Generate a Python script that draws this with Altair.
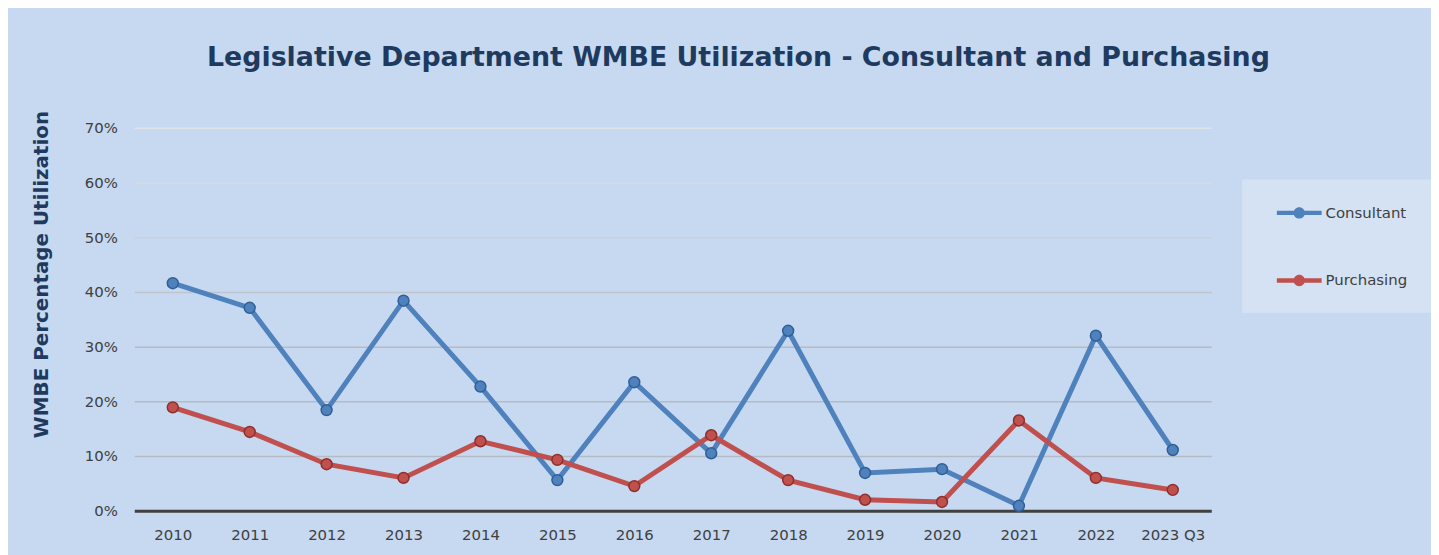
import altair as alt
import pandas as pd

years = ["2010", "2011", "2012", "2013", "2014", "2015", "2016", "2017",
         "2018", "2019", "2020", "2021", "2022", "2023 Q3"]
consultant = [0.416, 0.371, 0.184, 0.384, 0.227, 0.056, 0.235, 0.105,
              0.329, 0.069, 0.076, 0.009, 0.320, 0.111]
purchasing = [0.189, 0.144, 0.085, 0.060, 0.127, 0.093, 0.045, 0.138,
              0.056, 0.020, 0.016, 0.165, 0.060, 0.038]
series_names = ["Consultant", "Purchasing"]
series_colors = ["#4f81bd", "#c0504d"]
marker_edge = ["#2f5f96", "#8e2f2c"]
y_ticks = [0, 0.1, 0.2, 0.3, 0.4, 0.5, 0.6, 0.7]

rows = []
for s_i, (name, vals) in enumerate(zip(series_names, [consultant, purchasing])):
    for y_i, (yr, v) in enumerate(zip(years, vals)):
        rows.append({"year": yr, "series": name, "value": v, "s_order": s_i, "i": y_i})
df = pd.DataFrame(rows)

BG = "#c6d9f0"
TEXT = "#404040"
NAVY = "#1f3a5f"

# legend symbol: line segment with a round marker (unit scale = 9.5 px)
sym = ("M-2.37,-0.23 L-0.55,-0.23 L-0.55,0.23 L-2.37,0.23 Z "
       "M0.55,-0.23 L2.37,-0.23 L2.37,0.23 L0.55,0.23 Z "
       "M-0.6,0 A0.6,0.6 0 1,1 0.6,0 A0.6,0.6 0 1,1 -0.6,0 Z")

color = alt.Color(
    "series:N",
    scale=alt.Scale(domain=series_names, range=series_colors),
    legend=alt.Legend(
        orient="none", legendX=1114, legendY=52, title=None,
        fillColor="#d5e2f3", padding=24,
        symbolType=sym, symbolSize=361, symbolStrokeWidth=0,
        symbolOffset=24,
        labelFontSize=15, labelColor=TEXT, labelFont="DejaVu Sans",
        rowPadding=50, labelOffset=17,
    ),
)

grid_color = {
    "condition": [
        {"test": "datum.value > 0.65", "value": "#dfe3ea"},
        {"test": "datum.value > 0.55", "value": "#d6dae2"},
        {"test": "datum.value > 0.45", "value": "#cbd0d8"},
        {"test": "datum.value > 0.35", "value": "#c0c5cd"},
    ],
    "value": "#b6bbc3",
}

x = alt.X(
    "year:N", sort=years, title=None,
    scale=alt.Scale(type="point", padding=0.5),
    axis=alt.Axis(labelAngle=0, labelFontSize=15, labelColor=TEXT, labelFont="DejaVu Sans",
                  ticks=False, tickSize=0, labelPadding=17, domainColor="#404040",
                  domainWidth=3, grid=False),
)
y = alt.Y(
    "value:Q", title="WMBE Percentage Utilization",
    scale=alt.Scale(domain=[0, 0.7]),
    axis=alt.Axis(values=y_ticks, format=".0%", labelFontSize=15, labelColor=TEXT,
                  labelFont="DejaVu Sans", ticks=False, tickSize=0, labelPadding=17,
                  domain=False, gridColor=grid_color, gridWidth=1.5,
                  titleFont="DejaVu Sans", titleFontSize=20, titleFontWeight="bold",
                  titleColor=NAVY, titleAngle=-90, titleX=-93, titleY=147,
                  titleAlign="center", titleBaseline="middle"),
)

base = alt.Chart(df)
lines = base.mark_line(strokeWidth=5).encode(
    x=x, y=y, color=color, detail="series:N", order="i:Q",
)
points = base.mark_circle(size=120, opacity=1, strokeWidth=1.5).encode(
    x=x, y=y, color=color,
    stroke=alt.Stroke("series:N", scale=alt.Scale(domain=series_names, range=marker_edge),
                      legend=None),
    order="s_order:Q",
)

chart = alt.layer(lines, points).resolve_scale(stroke="independent").properties(
    width=1083, height=385,
    padding={"left": 127, "top": 119, "right": 221, "bottom": 43},
    autosize=alt.AutoSizeParams(type="none"),
    background=BG,
    title=alt.TitleParams(
        "Legislative Department WMBE Utilization - Consultant and Purchasing",
        font="DejaVu Sans", fontSize=27, fontWeight="bold", color=NAVY,
        anchor="middle", dx=66, offset=39,
    ),
).configure_view(stroke=None, fill=None)

chart.save("out.html", embed_options={"renderer": "svg", "actions": False})
